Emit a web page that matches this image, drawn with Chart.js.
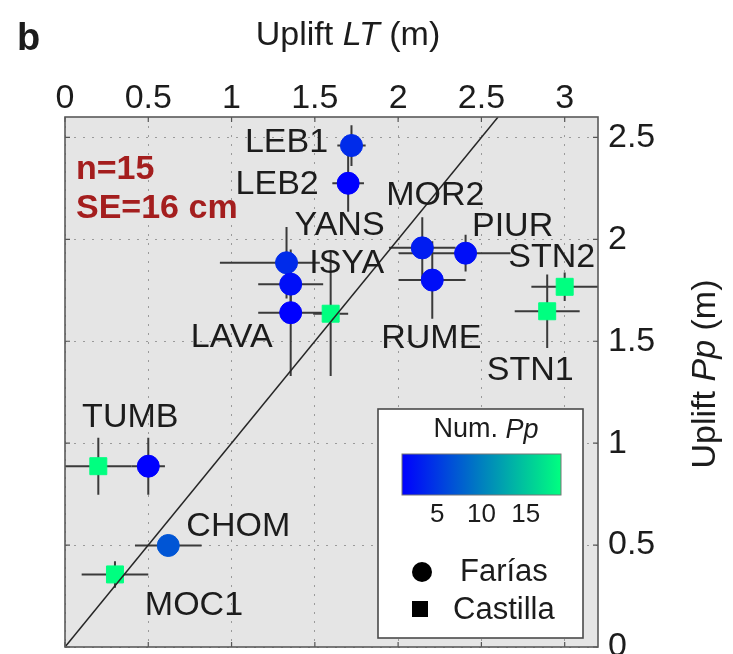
<!DOCTYPE html>
<html>
<head>
<meta charset="utf-8">
<title>Uplift LT vs Pp</title>
<script src="https://cdn.jsdelivr.net/npm/chart.js@4.4.1/dist/chart.umd.min.js"></script>
<style>
  html, body { margin: 0; padding: 0; background: #fff; }
  canvas { display: block; }
</style>
</head>
<body>
<canvas id="uplift" width="733" height="654"></canvas>
<script>
// ========== Data ==========

const sites    = ['LEB1', 'LEB2', 'YANS', 'ISYA', 'LAVA', '', 'MOR2', 'PIUR', 'RUME', 'STN2', 'STN1', '', 'TUMB', 'CHOM', 'MOC1'];
const source   = ['F', 'F', 'F', 'F', 'F', 'C', 'F', 'F', 'F', 'C', 'C', 'C', 'F', 'F', 'C'];   // F = Farías, C = Castilla
const upliftLT = [1.72, 1.70, 1.33, 1.355, 1.355, 1.595, 2.145, 2.405, 2.205, 3.00, 2.895, 0.20, 0.50, 0.62, 0.30];
const upliftPp = [2.46, 2.275, 1.885, 1.78, 1.64, 1.635, 1.958, 1.932, 1.80, 1.767, 1.647, 0.887, 0.887, 0.498, 0.356];
const errLTlo  = [0.085, 0.095, 0.40, 0.195, 0.195, 0.105, 0.20, 0.40, 0.20, 0.20, 0.195, 0.20, 0.10, 0.20, 0.20];
const errLThi  = [0.085, 0.095, 0.20, 0.195, 0.195, 0.105, 0.20, 0.27, 0.20, 0.20, 0.195, 0.20, 0.10, 0.20, 0.20];
const errPp    = [0.10, 0.14, 0.175, 0.10, 0.31, 0.305, 0.15, 0.09, 0.19, 0.07, 0.18, 0.14, 0.14, 0, 0.065];
const numPp    = [4, 1, 4, 2, 1, 19, 3, 2, 2, 19, 19, 19, 1, 7, 19];

const oneToOne    = [0, 2.6];
const xTickValues = [0, 0.5, 1, 1.5, 2, 2.5, 3];
const xTickLabels = ['0', '0.5', '1', '1.5', '2', '2.5', '3'];
const yTickValues = [0, 0.5, 1, 1.5, 2, 2.5];
const yTickLabels = ['0', '0.5', '1', '1.5', '2', '2.5'];
const cbarMin = 1, cbarMax = 19;
const cbarTicks = [5, 10, 15];

// label placement, pixel offset from its point
const labelOffset = {
    LEB1: [-65, -3], LEB2: [-71, 1], YANS: [53, -37], ISYA: [56, -21], LAVA: [-59, 25],
    MOR2: [13, -52], PIUR: [47, -27], STN2: [-13, -29], RUME: [-1, 59], STN1: [-17, 59],
    TUMB: [-18, -49], CHOM: [70, -19], MOC1: [79, 31]
};

const FONT = "'Liberation Sans', Arial, Helvetica, sans-serif";
const INK = '#1c1c1c';

// ========== Helpers ==========

// MATLAB "winter" colormap
function winter(n) {
    const t = Math.min(1, Math.max(0, (n - cbarMin) / (cbarMax - cbarMin)));
    return `rgb(0, ${Math.round(255 * t)}, ${Math.round(255 * (1 - t / 2))})`;
}

function pick(arr, src) {
    return arr.filter((_, i) => source[i] === src);
}

function pointsFor(src) {
    return upliftLT.map((x, i) => ({ x: x, y: upliftPp[i] })).filter((_, i) => source[i] === src);
}

// draw text made of normal / italic parts, centred on cx
function drawMixed(ctx, parts, cx, y, size) {
    const fonts = parts.map(p => (p[1] ? 'italic ' : '') + size + 'px ' + FONT);
    let total = 0;
    const widths = parts.map((p, i) => { ctx.font = fonts[i]; const w = ctx.measureText(p[0]).width; total += w; return w; });
    let x = cx - total / 2;
    ctx.textAlign = 'left';
    parts.forEach((p, i) => {
        ctx.font = fonts[i];
        ctx.fillText(p[0], x, y);
        x += widths[i];
    });
}

// ========== Plugins ==========

const plotBackground = {
    id: 'plotBackground',
    beforeDraw(chart) {
        const { ctx, chartArea: a } = chart;
        ctx.save();
        ctx.fillStyle = '#e5e5e5';
        ctx.fillRect(a.left, a.top, a.right - a.left, a.bottom - a.top);
        ctx.restore();
    }
};

const errorBars = {
    id: 'errorBars',
    beforeDatasetsDraw(chart) {
        const { ctx, chartArea: a, scales: { x, y } } = chart;
        ctx.save();
        ctx.beginPath();
        ctx.rect(a.left, a.top, a.right - a.left, a.bottom - a.top);
        ctx.clip();
        ctx.strokeStyle = '#3a3a3a';
        ctx.lineWidth = 2;
        upliftLT.forEach((lt, i) => {
            const px = x.getPixelForValue(lt);
            const py = y.getPixelForValue(upliftPp[i]);
            ctx.beginPath();
            ctx.moveTo(x.getPixelForValue(lt - errLTlo[i]), py);
            ctx.lineTo(x.getPixelForValue(lt + errLThi[i]), py);
            if (errPp[i] > 0) {
                ctx.moveTo(px, y.getPixelForValue(upliftPp[i] - errPp[i]));
                ctx.lineTo(px, y.getPixelForValue(upliftPp[i] + errPp[i]));
            }
            ctx.stroke();
        });
        ctx.restore();
    }
};

const annotations = {
    id: 'annotations',
    afterDatasetsDraw(chart) {
        const { ctx, scales: { x, y } } = chart;
        ctx.save();
        ctx.fillStyle = INK;
        ctx.font = '34px ' + FONT;
        ctx.textAlign = 'center';
        ctx.textBaseline = 'middle';
        sites.forEach((name, i) => {
            if (!name) return;
            const off = labelOffset[name];
            ctx.fillText(name, x.getPixelForValue(upliftLT[i]) + off[0], y.getPixelForValue(upliftPp[i]) + off[1]);
        });

        // n / SE text
        ctx.fillStyle = '#a41e1e';
        ctx.font = 'bold 34px ' + FONT;
        ctx.textAlign = 'left';
        ctx.fillText('n=' + upliftLT.length, 76, 170);
        ctx.fillText('SE=16 cm', 76, 209);
        ctx.restore();
    }
};

const frameAndLegend = {
    id: 'frameAndLegend',
    afterDraw(chart) {
        const { ctx, chartArea: a, scales: { x, y } } = chart;
        ctx.save();

        // inward tick marks on all four sides
        ctx.strokeStyle = '#555';
        ctx.lineWidth = 1.2;
        ctx.beginPath();
        xTickValues.forEach(v => {
            const px = x.getPixelForValue(v);
            ctx.moveTo(px, a.top); ctx.lineTo(px, a.top + 5);
            ctx.moveTo(px, a.bottom); ctx.lineTo(px, a.bottom - 5);
        });
        yTickValues.forEach(v => {
            const py = y.getPixelForValue(v);
            ctx.moveTo(a.left, py); ctx.lineTo(a.left + 5, py);
            ctx.moveTo(a.right, py); ctx.lineTo(a.right - 5, py);
        });
        ctx.stroke();

        // axes box
        ctx.strokeStyle = '#5a5a5a';
        ctx.lineWidth = 1.6;
        ctx.strokeRect(a.left, a.top, a.right - a.left, a.bottom - a.top);

        // axis titles and panel letter
        ctx.fillStyle = INK;
        ctx.textBaseline = 'alphabetic';
        drawMixed(ctx, [['Uplift ', false], ['LT', true], [' (m)', false]], 348, 45, 34);

        ctx.save();
        ctx.translate(706, 374);
        ctx.rotate(-Math.PI / 2);
        ctx.textBaseline = 'middle';
        drawMixed(ctx, [['Uplift ', false], ['Pp', true], [' (m)', false]], 0, 0, 34);
        ctx.restore();

        ctx.font = 'bold 38px ' + FONT;
        ctx.textAlign = 'left';
        ctx.fillText('b', 17, 50);

        // legend box
        const bx = 378, by = 409, bw = 205, bh = 229;
        ctx.fillStyle = '#fff';
        ctx.fillRect(bx, by, bw, bh);
        ctx.strokeStyle = '#4a4a4a';
        ctx.lineWidth = 1.6;
        ctx.strokeRect(bx, by, bw, bh);

        ctx.fillStyle = INK;
        ctx.textBaseline = 'middle';
        drawMixed(ctx, [['Num. ', false], ['Pp', true]], 486, 430, 27);

        // colour bar
        const c0 = 402, c1 = 561, cy0 = 454, cy1 = 495;
        const grad = ctx.createLinearGradient(c0, 0, c1, 0);
        for (let k = 0; k <= 10; k++) {
            grad.addColorStop(k / 10, winter(cbarMin + (cbarMax - cbarMin) * k / 10));
        }
        ctx.fillStyle = grad;
        ctx.fillRect(c0, cy0, c1 - c0, cy1 - cy0);
        ctx.strokeStyle = '#777';
        ctx.lineWidth = 1;
        ctx.strokeRect(c0, cy0, c1 - c0, cy1 - cy0);

        ctx.fillStyle = INK;
        ctx.font = '26px ' + FONT;
        ctx.textAlign = 'center';
        cbarTicks.forEach(v => {
            ctx.fillText(String(v), c0 + (v - cbarMin) / (cbarMax - cbarMin) * (c1 - c0), 515);
        });

        // marker entries
        ctx.fillStyle = '#000';
        ctx.beginPath();
        ctx.arc(422, 572, 10, 0, Math.PI * 2);
        ctx.fill();
        ctx.fillRect(412, 601, 16, 16);

        ctx.fillStyle = INK;
        ctx.font = '31px ' + FONT;
        ctx.textAlign = 'left';
        ctx.fillText('Farías', 460, 572);
        ctx.fillText('Castilla', 453, 610);

        ctx.restore();
    }
};

// ========== Chart ==========

Chart.defaults.font.family = FONT;
Chart.defaults.color = INK;

const ctx = document.getElementById('uplift').getContext('2d');

new Chart(ctx, {
    type: 'scatter',
    data: {
        datasets: [
            {
                type: 'line',
                label: '1:1',
                data: oneToOne.map(v => ({ x: v, y: v })),
                borderColor: '#262626',
                borderWidth: 1.5,
                pointRadius: 0,
                fill: false
            },
            {
                label: 'Farías',
                data: pointsFor('F'),
                pointStyle: 'circle',
                pointRadius: 11,
                backgroundColor: pick(numPp, 'F').map(winter),
                borderColor: pick(numPp, 'F').map(winter),
                borderWidth: 1
            },
            {
                label: 'Castilla',
                data: pointsFor('C'),
                pointStyle: 'rect',
                pointRadius: 12,
                backgroundColor: pick(numPp, 'C').map(winter),
                borderColor: pick(numPp, 'C').map(winter),
                borderWidth: 1
            }
        ]
    },
    options: {
        responsive: false,
        animation: false,
        layout: { autoPadding: false, padding: { left: 65, right: 0, top: 0, bottom: 7 } },
        plugins: {
            legend: { display: false },
            tooltip: { enabled: false }
        },
        scales: {
            x: {
                type: 'linear',
                position: 'top',
                min: 0,
                max: 3.2,
                afterBuildTicks: s => { s.ticks = xTickValues.map(v => ({ value: v })); },
                afterFit: s => { s.height = 117; s.paddingLeft = 0; s.paddingRight = 0; },
                ticks: {
                    callback: (v, i) => xTickLabels[i],
                    font: { size: 34 },
                    color: INK,
                    padding: -2,
                    maxRotation: 0,
                    autoSkip: false
                },
                grid: { color: '#9a9a9a', lineWidth: 1, drawTicks: false },
                border: { display: false, dash: [2, 7] }
            },
            y: {
                type: 'linear',
                position: 'right',
                min: 0,
                max: 2.6,
                afterBuildTicks: s => { s.ticks = yTickValues.map(v => ({ value: v })); },
                afterFit: s => { s.width = 135; s.paddingTop = 0; s.paddingBottom = 0; },
                ticks: {
                    callback: (v, i) => yTickLabels[i],
                    font: { size: 34 },
                    color: INK,
                    padding: 10,
                    autoSkip: false
                },
                grid: { color: '#9a9a9a', lineWidth: 1, drawTicks: false },
                border: { display: false, dash: [2, 7] }
            }
        }
    },
    plugins: [plotBackground, errorBars, annotations, frameAndLegend]
});
</script>
</body>
</html>
